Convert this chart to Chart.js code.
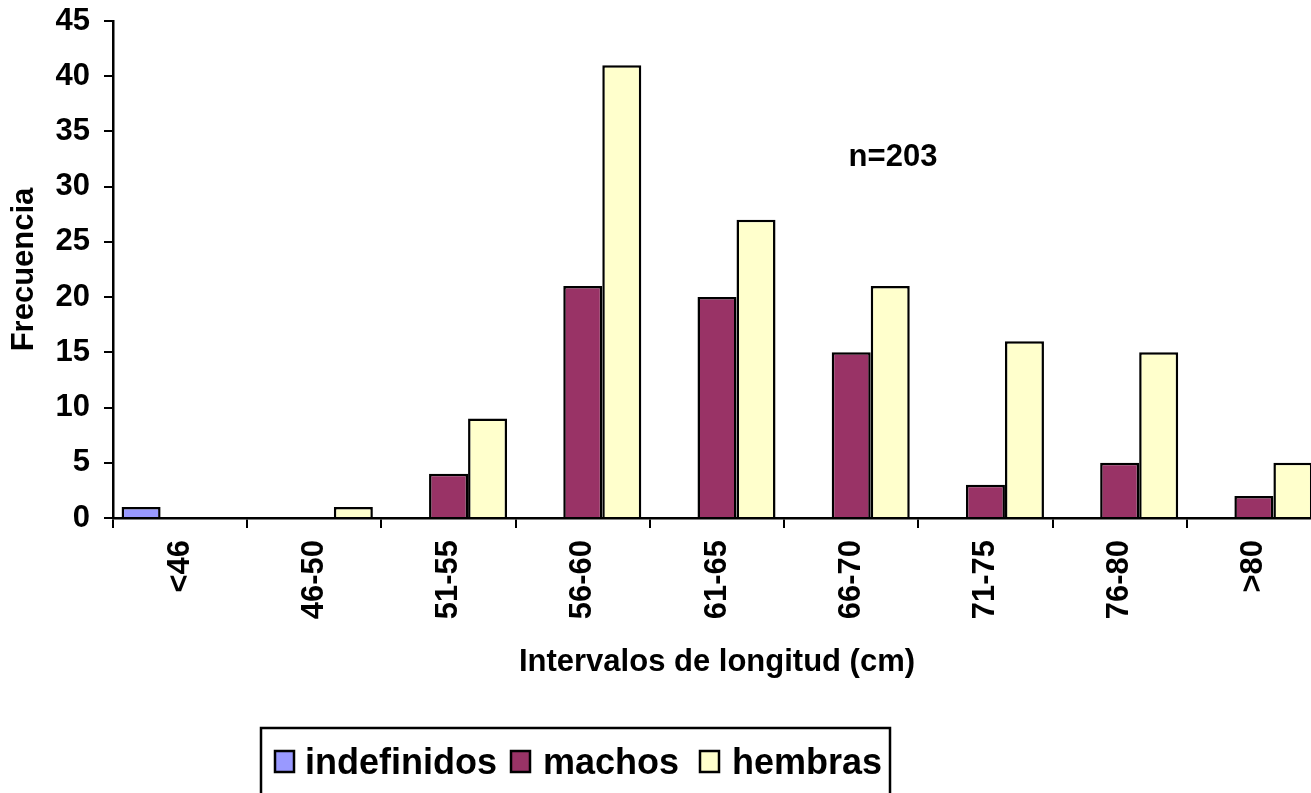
<!DOCTYPE html>
<html>
<head>
<meta charset="utf-8">
<title>Frecuencia por intervalos de longitud</title>
<script src="https://cdn.jsdelivr.net/npm/chart.js@4.4.1/dist/chart.umd.min.js"></script>
<style>
  html, body { margin: 0; padding: 0; background: #fff; overflow: hidden; }
  #wrap { width: 1325px; height: 800px; }
</style>
</head>
<body>
<div id="wrap"><canvas id="lengthChart"></canvas></div>
<script>
// data
const categories = ['<46', '46-50', '51-55', '56-60', '61-65', '66-70', '71-75', '76-80', '>80'];
const indefinidos = [1, 0, 0, 0, 0, 0, 0, 0, 0];
const machos = [0, 0, 4, 21, 20, 15, 3, 5, 2];
const hembras = [0, 1, 9, 41, 27, 21, 16, 15, 5];
const seriesNames = ['indefinidos', 'machos', 'hembras'];
const yMin = 0, yMax = 45, yStep = 5;
const sampleLabel = 'n=203';

const FONT = '"Liberation Sans", Arial, Helvetica, sans-serif';
Chart.defaults.font.family = FONT;
Chart.defaults.color = '#000';

// legend in a frame, like the old spreadsheet chart
const boxedLegend = {
  id: 'boxedLegend',
  afterDraw(chart) {
    const ctx = chart.ctx;
    ctx.save();
    ctx.strokeStyle = '#000';
    ctx.lineWidth = 2.5;
    ctx.strokeRect(261, 728, 629, 120);
    const boxX = [275, 511, 700];
    const textX = [305, 543, 732];
    ctx.font = 'bold 36px ' + FONT;
    ctx.textBaseline = 'alphabetic';
    ctx.textAlign = 'left';
    chart.data.datasets.forEach((ds, i) => {
      ctx.fillStyle = ds.backgroundColor;
      ctx.fillRect(boxX[i], 751, 19, 21);
      ctx.lineWidth = 2.5;
      ctx.strokeRect(boxX[i], 751, 19, 21);
      ctx.fillStyle = '#000';
      ctx.fillText(ds.label, textX[i], 774);
    });
    // n label
    ctx.font = 'bold 31px ' + FONT;
    ctx.textAlign = 'center';
    ctx.textBaseline = 'middle';
    ctx.fillText(sampleLabel, 893, 157);
    ctx.restore();
  }
};

const ctx = document.getElementById('lengthChart').getContext('2d');
const lengthChart = new Chart(ctx, {
  type: 'bar',
  data: {
    labels: categories,
    datasets: [{
      label: seriesNames[0],
      data: indefinidos,
      backgroundColor: '#9999FF'
    }, {
      label: seriesNames[1],
      data: machos,
      backgroundColor: '#993366'
    }, {
      label: seriesNames[2],
      data: hembras,
      backgroundColor: '#FFFFCC'
    }]
  },
  options: {
    responsive: true,
    maintainAspectRatio: false,
    animation: false,
    layout: {
      padding: { top: 21, right: 4, bottom: 117, left: 0 }
    },
    datasets: {
      bar: {
        borderColor: '#000',
        borderWidth: 2.5,
        categoryPercentage: 0.872,
        barPercentage: 1
      }
    },
    plugins: {
      legend: { display: false },
      tooltip: { enabled: false }
    },
    scales: {
      x: {
        grid: {
          offset: true,
          drawOnChartArea: false,
          drawTicks: true,
          tickLength: 10,
          color: '#000',
          lineWidth: 2
        },
        border: { display: true, color: '#000', width: 2.5 },
        ticks: {
          maxRotation: 90,
          minRotation: 90,
          padding: 12,
          font: { size: 31, weight: 'bold' }
        },
        title: {
          display: true,
          text: 'Intervalos de longitud (cm)',
          font: { size: 31, weight: 'bold' },
          padding: { top: 0, bottom: 2 }
        },
        afterFit(scale) { scale.height = 165; }
      },
      y: {
        min: yMin,
        max: yMax,
        grid: {
          drawOnChartArea: false,
          drawTicks: true,
          tickLength: 9,
          color: '#000',
          lineWidth: 2
        },
        border: { display: true, color: '#000', width: 2.5 },
        ticks: {
          stepSize: yStep,
          padding: 14,
          font: { size: 31, weight: 'bold' }
        },
        title: {
          display: true,
          text: 'Frecuencia',
          font: { size: 31, weight: 'bold' },
          padding: { top: 6, bottom: 0 }
        },
        afterFit(scale) {
          scale.width = 113;
          scale.paddingTop = 0;
          scale.paddingBottom = 0;
        }
      }
    }
  },
  plugins: [boxedLegend]
});
</script>
</body>
</html>
